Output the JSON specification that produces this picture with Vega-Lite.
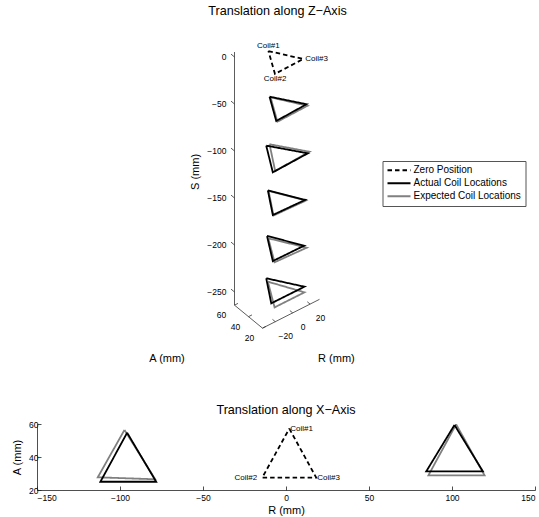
{
  "$schema": "https://vega.github.io/schema/vega-lite/v6.json",
  "padding": {"left": 11, "top": 5, "right": 0, "bottom": 0},
  "background": "white",
  "config": {
    "view": {"stroke": null},
    "font": "Liberation Sans",
    "title": {"font": "Liberation Sans", "fontSize": 12.6, "fontWeight": "normal", "color": "black", "frame": "group"},
    "axis": {"labelFont": "Liberation Sans", "titleFont": "Liberation Sans", "labelFontSize": 8.5, "titleFontSize": 11, "titleFontWeight": "normal", "labelColor": "black", "titleColor": "black", "domainColor": "#222", "tickColor": "#222", "grid": false, "domainWidth": 0.8, "tickWidth": 0.8},
    "text": {"font": "Liberation Sans", "color": "black"}
  },
  "datasets": {
    "axes3d": [
      {"R": -34.7, "A": 60, "S": 5.3, "R2": -34.7, "A2": 60, "S2": -264},
      {"R": -34.7, "A": 60, "S": -264, "R2": -34.7, "A2": 20, "S2": -264},
      {"R": -34.7, "A": 20, "S": -264, "R2": 30.8, "A2": 20, "S2": -264},
      {"R": -34.7, "A": 60, "S": 0, "R2": -34.7, "A2": 65, "S2": 0},
      {"R": -34.7, "A": 60, "S": -50, "R2": -34.7, "A2": 65, "S2": -50},
      {"R": -34.7, "A": 60, "S": -100, "R2": -34.7, "A2": 65, "S2": -100},
      {"R": -34.7, "A": 60, "S": -150, "R2": -34.7, "A2": 65, "S2": -150},
      {"R": -34.7, "A": 60, "S": -200, "R2": -34.7, "A2": 65, "S2": -200},
      {"R": -34.7, "A": 60, "S": -250, "R2": -34.7, "A2": 65, "S2": -250},
      {"R": -34.7, "A": 20, "S": -264, "R2": -30.7, "A2": 20, "S2": -264},
      {"R": -34.7, "A": 40, "S": -264, "R2": -30.7, "A2": 40, "S2": -264},
      {"R": -34.7, "A": 60, "S": -264, "R2": -30.7, "A2": 60, "S2": -264},
      {"R": -20, "A": 20, "S": -264, "R2": -20, "A2": 24, "S2": -264},
      {"R": 0, "A": 20, "S": -264, "R2": 0, "A2": 24, "S2": -264},
      {"R": 20, "A": 20, "S": -264, "R2": 20, "A2": 24, "S2": -264}
    ],
    "sLabels": [
      {"t": "0", "R": -34.7, "A": 60, "S": 0},
      {"t": "\u221250", "R": -34.7, "A": 60, "S": -50},
      {"t": "\u2212100", "R": -34.7, "A": 60, "S": -100},
      {"t": "\u2212150", "R": -34.7, "A": 60, "S": -150},
      {"t": "\u2212200", "R": -34.7, "A": 60, "S": -200},
      {"t": "\u2212250", "R": -34.7, "A": 60, "S": -250}
    ],
    "aLabels": [
      {"t": "20", "R": -34.7, "A": 20, "S": -264},
      {"t": "40", "R": -34.7, "A": 40, "S": -264},
      {"t": "60", "R": -34.7, "A": 60, "S": -264}
    ],
    "rLabels": [
      {"t": "\u221220", "R": -20, "A": 20, "S": -264},
      {"t": "0", "R": 0, "A": 20, "S": -264},
      {"t": "20", "R": 20, "A": 20, "S": -264}
    ],
    "axisTitles3d": [
      {"t": "A (mm)", "R": -129, "A": 42, "S": -264},
      {"t": "R (mm)", "R": -8.5, "A": -50.2, "S": -264}
    ],
    "sTitle3d": [
      {"t": "S (mm)", "R": -34.7, "A": 114.3, "S": -155.5}
    ],
    "coil3d": [
      {"t": "Coil#1", "pos": "top", "R": 2, "A": 57.2, "S": -9.1},
      {"t": "Coil#2", "pos": "bottom", "R": -14.3, "A": 27.5, "S": -7.7},
      {"t": "Coil#3", "pos": "right", "R": 18.2, "A": 27.5, "S": -7.0}
    ],
    "tri3d": [
      {"set": "e1", "type": "Expected Coil Locations", "v": 0, "R": 4.5, "A": 57.2, "S": -59.5},
      {"set": "e1", "type": "Expected Coil Locations", "v": 1, "R": 23, "A": 27.5, "S": -59},
      {"set": "e1", "type": "Expected Coil Locations", "v": 2, "R": -11.5, "A": 27.5, "S": -59.8},
      {"set": "e1", "type": "Expected Coil Locations", "v": 3, "R": 4.5, "A": 57.2, "S": -59.5},
      {"set": "e2", "type": "Expected Coil Locations", "v": 0, "R": 3.3, "A": 57.2, "S": -108.9},
      {"set": "e2", "type": "Expected Coil Locations", "v": 1, "R": 25.3, "A": 27.5, "S": -109},
      {"set": "e2", "type": "Expected Coil Locations", "v": 2, "R": -14.1, "A": 27.5, "S": -111},
      {"set": "e2", "type": "Expected Coil Locations", "v": 3, "R": 3.3, "A": 57.2, "S": -108.9},
      {"set": "e3", "type": "Expected Coil Locations", "v": 0, "R": 2.2, "A": 57.2, "S": -158},
      {"set": "e3", "type": "Expected Coil Locations", "v": 1, "R": 21.2, "A": 27.5, "S": -159},
      {"set": "e3", "type": "Expected Coil Locations", "v": 2, "R": -16, "A": 27.5, "S": -157.5},
      {"set": "e3", "type": "Expected Coil Locations", "v": 3, "R": 2.2, "A": 57.2, "S": -158},
      {"set": "e4", "type": "Expected Coil Locations", "v": 0, "R": 1.9, "A": 57.2, "S": -208.3},
      {"set": "e4", "type": "Expected Coil Locations", "v": 1, "R": 22.2, "A": 27.5, "S": -209.6},
      {"set": "e4", "type": "Expected Coil Locations", "v": 2, "R": -14.8, "A": 27.5, "S": -207.8},
      {"set": "e4", "type": "Expected Coil Locations", "v": 3, "R": 1.9, "A": 57.2, "S": -208.3},
      {"set": "e5", "type": "Expected Coil Locations", "v": 0, "R": 1.4, "A": 57.2, "S": -254.2},
      {"set": "e5", "type": "Expected Coil Locations", "v": 1, "R": 19.6, "A": 27.5, "S": -255.9},
      {"set": "e5", "type": "Expected Coil Locations", "v": 2, "R": -14.8, "A": 27.5, "S": -255.8},
      {"set": "e5", "type": "Expected Coil Locations", "v": 3, "R": 1.4, "A": 57.2, "S": -254.2},
      {"set": "z0", "type": "Zero Position", "v": 0, "R": 2, "A": 57.2, "S": -9.1},
      {"set": "z0", "type": "Zero Position", "v": 1, "R": 18.2, "A": 27.5, "S": -7.0},
      {"set": "z0", "type": "Zero Position", "v": 2, "R": -14.3, "A": 27.5, "S": -7.7},
      {"set": "z0", "type": "Zero Position", "v": 3, "R": 2, "A": 57.2, "S": -9.1},
      {"set": "a1", "type": "Actual Coil Locations", "v": 0, "R": 3.3, "A": 57.2, "S": -58.3},
      {"set": "a1", "type": "Actual Coil Locations", "v": 1, "R": 22, "A": 27.5, "S": -56.9},
      {"set": "a1", "type": "Actual Coil Locations", "v": 2, "R": -12.9, "A": 27.5, "S": -58.4},
      {"set": "a1", "type": "Actual Coil Locations", "v": 3, "R": 3.3, "A": 57.2, "S": -58.3},
      {"set": "a2", "type": "Actual Coil Locations", "v": 0, "R": -0.5, "A": 57.2, "S": -108.6},
      {"set": "a2", "type": "Actual Coil Locations", "v": 1, "R": 23.4, "A": 27.5, "S": -109.8},
      {"set": "a2", "type": "Actual Coil Locations", "v": 2, "R": -16.8, "A": 27.5, "S": -111.2},
      {"set": "a2", "type": "Actual Coil Locations", "v": 3, "R": -0.5, "A": 57.2, "S": -108.6},
      {"set": "a3", "type": "Actual Coil Locations", "v": 0, "R": 1.4, "A": 57.2, "S": -157.1},
      {"set": "a3", "type": "Actual Coil Locations", "v": 1, "R": 20.4, "A": 27.5, "S": -157.9},
      {"set": "a3", "type": "Actual Coil Locations", "v": 2, "R": -16.8, "A": 27.5, "S": -156.6},
      {"set": "a3", "type": "Actual Coil Locations", "v": 3, "R": 1.4, "A": 57.2, "S": -157.1},
      {"set": "a4", "type": "Actual Coil Locations", "v": 0, "R": 0.4, "A": 57.2, "S": -205.1},
      {"set": "a4", "type": "Actual Coil Locations", "v": 1, "R": 19.3, "A": 27.5, "S": -206.1},
      {"set": "a4", "type": "Actual Coil Locations", "v": 2, "R": -16.8, "A": 27.5, "S": -205.6},
      {"set": "a4", "type": "Actual Coil Locations", "v": 3, "R": 0.4, "A": 57.2, "S": -205.1},
      {"set": "a5", "type": "Actual Coil Locations", "v": 0, "R": -0.5, "A": 57.2, "S": -249.7},
      {"set": "a5", "type": "Actual Coil Locations", "v": 1, "R": 19.6, "A": 27.5, "S": -249.9},
      {"set": "a5", "type": "Actual Coil Locations", "v": 2, "R": -18.6, "A": 27.5, "S": -249.7},
      {"set": "a5", "type": "Actual Coil Locations", "v": 3, "R": -0.5, "A": 57.2, "S": -249.7}
    ],
    "tri2d": [
      {"set": "eL", "type": "Expected Coil Locations", "v": 0, "R": -97.3, "A": 56.4},
      {"set": "eL", "type": "Expected Coil Locations", "v": 1, "R": -78.8, "A": 26.5},
      {"set": "eL", "type": "Expected Coil Locations", "v": 2, "R": -113.4, "A": 27.7},
      {"set": "eL", "type": "Expected Coil Locations", "v": 3, "R": -97.3, "A": 56.4},
      {"set": "eR", "type": "Expected Coil Locations", "v": 0, "R": 102.5, "A": 59.8},
      {"set": "eR", "type": "Expected Coil Locations", "v": 1, "R": 119.6, "A": 28.9},
      {"set": "eR", "type": "Expected Coil Locations", "v": 2, "R": 85.8, "A": 28.9},
      {"set": "eR", "type": "Expected Coil Locations", "v": 3, "R": 102.5, "A": 59.8},
      {"set": "z0", "type": "Zero Position", "v": 0, "R": 2, "A": 57.2},
      {"set": "z0", "type": "Zero Position", "v": 1, "R": 18.2, "A": 27.5},
      {"set": "z0", "type": "Zero Position", "v": 2, "R": -14.3, "A": 27.5},
      {"set": "z0", "type": "Zero Position", "v": 3, "R": 2, "A": 57.2},
      {"set": "aL", "type": "Actual Coil Locations", "v": 0, "R": -95.7, "A": 54.7},
      {"set": "aL", "type": "Actual Coil Locations", "v": 1, "R": -78.2, "A": 25},
      {"set": "aL", "type": "Actual Coil Locations", "v": 2, "R": -111.8, "A": 25},
      {"set": "aL", "type": "Actual Coil Locations", "v": 3, "R": -95.7, "A": 54.7},
      {"set": "aR", "type": "Actual Coil Locations", "v": 0, "R": 101.5, "A": 59.4},
      {"set": "aR", "type": "Actual Coil Locations", "v": 1, "R": 118.6, "A": 31.3},
      {"set": "aR", "type": "Actual Coil Locations", "v": 2, "R": 84.5, "A": 31.3},
      {"set": "aR", "type": "Actual Coil Locations", "v": 3, "R": 101.5, "A": 59.4}
    ],
    "coil2d": [
      {"t": "Coil#1", "R": 2, "A": 57.2},
      {"t": "Coil#2", "R": -14.3, "A": 27.5},
      {"t": "Coil#3", "R": 18.2, "A": 27.5}
    ]
  },
  "spacing": 20,
  "vconcat": [
    {
      "width": 498,
      "height": 364,
      "title": {"text": "Translation along Z\u2212Axis", "offset": 2, "dx": -8.5},
      "encoding": {
        "x": {"field": "X", "type": "quantitative", "scale": {"domain": [-269.69, 228.31], "nice": false, "zero": false}, "axis": null},
        "y": {"field": "Y", "type": "quantitative", "scale": {"domain": [-307.77, 56.23], "nice": false, "zero": false}, "axis": null}
      },
      "layer": [
        {
          "data": {"name": "axes3d"},
          "transform": [
            {"calculate": "0.87*datum.R - 0.7*datum.A", "as": "X"},
            {"calculate": "0.94*datum.S + 0.44*datum.R + 0.575*datum.A", "as": "Y"},
            {"calculate": "0.87*datum.R2 - 0.7*datum.A2", "as": "X2"},
            {"calculate": "0.94*datum.S2 + 0.44*datum.R2 + 0.575*datum.A2", "as": "Y2"}
          ],
          "mark": {"type": "rule", "color": "#333", "strokeWidth": 0.8},
          "encoding": {"x2": {"field": "X2"}, "y2": {"field": "Y2"}}
        },
        {
          "data": {"name": "tri3d"},
          "transform": [
            {"calculate": "0.87*datum.R - 0.7*datum.A", "as": "X"},
            {"calculate": "0.94*datum.S + 0.44*datum.R + 0.575*datum.A", "as": "Y"}
          ],
          "mark": {"type": "line", "strokeWidth": 1.8},
          "encoding": {
            "detail": {"field": "set"},
            "order": {"field": "v"},
            "color": {"field": "type", "type": "nominal",
              "scale": {"domain": ["Zero Position", "Actual Coil Locations", "Expected Coil Locations"], "range": ["black", "black", "#808080"]},
              "legend": {"orient": "none", "legendX": 345.5, "legendY": 141, "title": null, "symbolType": "stroke", "symbolSize": 529, "symbolStrokeWidth": 1.8, "clipHeight": 10.5, "labelFontSize": 10, "labelFont": "Liberation Sans", "labelColor": "black", "strokeColor": "#555", "fillColor": "white", "padding": 4, "rowPadding": 2, "labelOffset": 2}},
            "strokeDash": {"field": "type", "type": "nominal",
              "scale": {"domain": ["Zero Position", "Actual Coil Locations", "Expected Coil Locations"], "range": [[4.5, 3], [1, 0], [1, 0]]},
              "legend": {"orient": "none", "legendX": 345.5, "legendY": 141, "title": null, "symbolType": "stroke", "symbolSize": 529, "symbolStrokeWidth": 1.8, "clipHeight": 10.5, "labelFontSize": 10, "labelFont": "Liberation Sans", "labelColor": "black", "strokeColor": "#555", "fillColor": "white", "padding": 4, "rowPadding": 2, "labelOffset": 2}}
          }
        },
        {
          "data": {"name": "sLabels"},
          "transform": [
            {"calculate": "0.87*datum.R - 0.7*datum.A", "as": "X"},
            {"calculate": "0.94*datum.S + 0.44*datum.R + 0.575*datum.A", "as": "Y"}
          ],
          "mark": {"type": "text", "align": "right", "baseline": "middle", "dx": -8, "fontSize": 8.5, "fill": "black"},
          "encoding": {"text": {"field": "t"}}
        },
        {
          "data": {"name": "aLabels"},
          "transform": [
            {"calculate": "0.87*datum.R - 0.7*datum.A", "as": "X"},
            {"calculate": "0.94*datum.S + 0.44*datum.R + 0.575*datum.A", "as": "Y"}
          ],
          "mark": {"type": "text", "align": "center", "baseline": "middle", "dx": -13, "dy": 10, "fontSize": 8.5, "fill": "black"},
          "encoding": {"text": {"field": "t"}}
        },
        {
          "data": {"name": "rLabels"},
          "transform": [
            {"calculate": "0.87*datum.R - 0.7*datum.A", "as": "X"},
            {"calculate": "0.94*datum.S + 0.44*datum.R + 0.575*datum.A", "as": "Y"}
          ],
          "mark": {"type": "text", "align": "center", "baseline": "middle", "dx": 10.5, "dy": 14, "fontSize": 8.5, "fill": "black"},
          "encoding": {"text": {"field": "t"}}
        },
        {
          "data": {"name": "axisTitles3d"},
          "transform": [
            {"calculate": "0.87*datum.R - 0.7*datum.A", "as": "X"},
            {"calculate": "0.94*datum.S + 0.44*datum.R + 0.575*datum.A", "as": "Y"}
          ],
          "mark": {"type": "text", "align": "center", "baseline": "middle", "dx": 2, "dy": 2, "fontSize": 11, "fill": "black"},
          "encoding": {"text": {"field": "t"}}
        },
        {
          "data": {"name": "sTitle3d"},
          "transform": [
            {"calculate": "0.87*datum.R - 0.7*datum.A", "as": "X"},
            {"calculate": "0.94*datum.S + 0.44*datum.R + 0.575*datum.A", "as": "Y"}
          ],
          "mark": {"type": "text", "align": "center", "baseline": "middle", "fontSize": 11, "angle": 270, "fill": "black"},
          "encoding": {"text": {"field": "t"}}
        },
        {
          "data": {"name": "coil3d"},
          "transform": [
            {"filter": "datum.pos == 'top'"},
            {"calculate": "0.87*datum.R - 0.7*datum.A", "as": "X"},
            {"calculate": "0.94*datum.S + 0.44*datum.R + 0.575*datum.A", "as": "Y"}
          ],
          "mark": {"type": "text", "align": "center", "baseline": "bottom", "dy": -1, "fontSize": 8, "fill": "black"},
          "encoding": {"text": {"field": "t"}}
        },
        {
          "data": {"name": "coil3d"},
          "transform": [
            {"filter": "datum.pos == 'bottom'"},
            {"calculate": "0.87*datum.R - 0.7*datum.A", "as": "X"},
            {"calculate": "0.94*datum.S + 0.44*datum.R + 0.575*datum.A", "as": "Y"}
          ],
          "mark": {"type": "text", "align": "center", "baseline": "top", "dy": 1, "fontSize": 8, "fill": "black"},
          "encoding": {"text": {"field": "t"}}
        },
        {
          "data": {"name": "coil3d"},
          "transform": [
            {"filter": "datum.pos == 'right'"},
            {"calculate": "0.87*datum.R - 0.7*datum.A", "as": "X"},
            {"calculate": "0.94*datum.S + 0.44*datum.R + 0.575*datum.A", "as": "Y"}
          ],
          "mark": {"type": "text", "align": "left", "baseline": "middle", "dx": 2, "fontSize": 8, "fill": "black"},
          "encoding": {"text": {"field": "t"}}
        }
      ]
    },
    {
      "width": 498,
      "height": 66,
      "title": {"text": "Translation along X\u2212Axis", "offset": 3},
      "encoding": {
        "x": {"field": "R", "type": "quantitative", "scale": {"domain": [-150, 150], "nice": false, "zero": false},
          "axis": {"title": "R (mm)", "values": [-150, -100, -50, 0, 50, 100, 150], "tickSize": -4, "labelPadding": 7, "titlePadding": 3}},
        "y": {"field": "A", "type": "quantitative", "scale": {"domain": [20, 60], "nice": false, "zero": false},
          "axis": {"title": "A (mm)", "values": [20, 40, 60], "tickSize": -4, "labelPadding": 3, "titlePadding": 6}}
      },
      "layer": [
        {
          "data": {"name": "tri2d"},
          "mark": {"type": "line", "strokeWidth": 1.8},
          "encoding": {
            "detail": {"field": "set"},
            "order": {"field": "v"},
            "color": {"field": "type", "type": "nominal",
              "scale": {"domain": ["Zero Position", "Actual Coil Locations", "Expected Coil Locations"], "range": ["black", "black", "#808080"]}, "legend": null},
            "strokeDash": {"field": "type", "type": "nominal",
              "scale": {"domain": ["Zero Position", "Actual Coil Locations", "Expected Coil Locations"], "range": [[4.5, 3], [1, 0], [1, 0]]}, "legend": null}
          }
        },
        {
          "data": {"name": "coil2d"},
          "transform": [{"filter": "datum.t != 'Coil#2'"}],
          "mark": {"type": "text", "align": "left", "baseline": "middle", "dx": 1, "fontSize": 8, "fill": "black"},
          "encoding": {"text": {"field": "t"}}
        },
        {
          "data": {"name": "coil2d"},
          "transform": [{"filter": "datum.t == 'Coil#2'"}],
          "mark": {"type": "text", "align": "right", "baseline": "middle", "dx": -5, "fontSize": 8, "fill": "black"},
          "encoding": {"text": {"field": "t"}}
        }
      ]
    }
  ],
  "resolve": {
    "scale": {"color": "independent", "strokeDash": "independent"},
    "legend": {"color": "independent", "strokeDash": "independent"}
  }
}
